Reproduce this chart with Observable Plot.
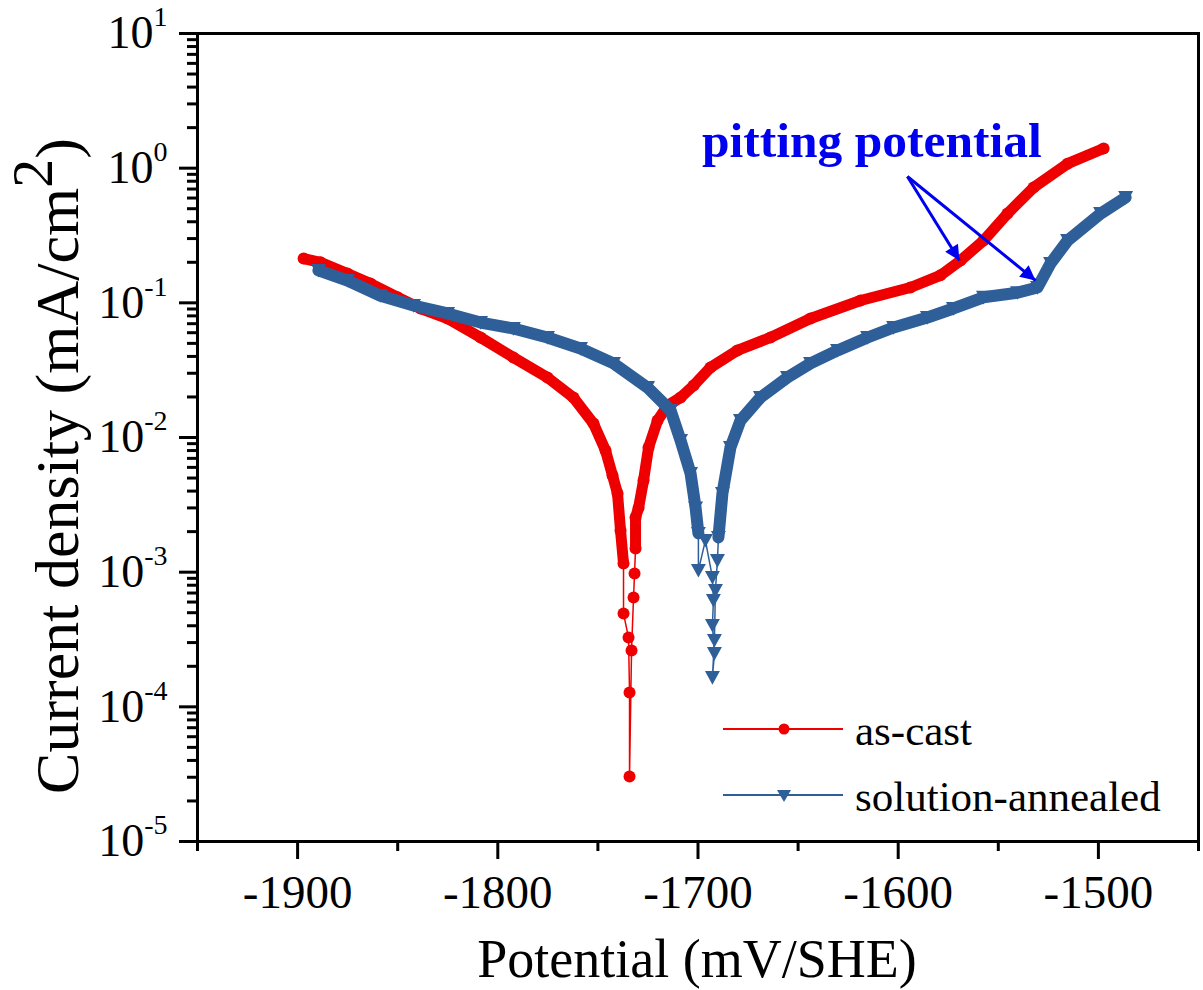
<!DOCTYPE html>
<html><head><meta charset="utf-8">
<script src="https://cdn.jsdelivr.net/npm/d3@7"></script>
<script src="https://cdn.jsdelivr.net/npm/@observablehq/plot@0.6"></script>
<style>
body{margin:0;background:#fff}
svg{font-family:"Liberation Serif","Times New Roman",serif}
</style>
</head><body><div id="chart"></div>
<script>
// ---- data (potential in mV/SHE, current density in mA/cm2) ----
const asCastPotential = [-1897.0,-1888.6,-1875.1,-1863.6,-1850.1,-1838.6,-1825.1,-1808.6,-1792.2,-1775.2,-1762.2,-1752.2,-1746.2,-1742.7,-1740.2,-1738.7,-1737.2,-1737.2,-1734.7,-1734.2,-1734.2,-1733.2,-1732.2,-1731.7,-1731.2,-1731.2,-1729.7,-1727.2,-1724.7,-1720.2,-1715.2,-1708.7,-1702.2,-1693.8,-1680.3,-1663.8,-1643.8,-1618.8,-1593.9,-1578.9,-1568.9,-1557.4,-1545.4,-1532.4,-1515.4,-1497.4];
const asCastCurrent = [0.213,0.200,0.165,0.139,0.110,0.0908,0.0765,0.0553,0.0393,0.0279,0.0198,0.0127,0.00801,0.00522,0.00384,0.00204,0.00116,4.93e-4,3.27e-4,1.28e-4,3.04e-5,2.62e-4,6.49e-4,9.77e-4,0.0015,0.00255,0.0030,0.0048,0.00843,0.01337,0.0173,0.0198,0.0243,0.0331,0.0443,0.0553,0.0765,0.104,0.130,0.160,0.206,0.290,0.460,0.718,1.08,1.40];
const annealedPotential = [-1889.6,-1875.1,-1858.6,-1842.1,-1825.1,-1808.6,-1792.2,-1775.2,-1758.7,-1742.2,-1725.2,-1713.7,-1708.7,-1703.7,-1701.2,-1699.8,-1699.8,-1696.3,-1692.8,-1692.3,-1692.8,-1691.8,-1692.8,-1691.8,-1691.3,-1690.3,-1689.8,-1687.8,-1683.8,-1678.8,-1668.8,-1655.3,-1643.8,-1630.3,-1615.3,-1602.3,-1585.4,-1572.4,-1557.4,-1540.4,-1530.4,-1523.9,-1515.4,-1498.9,-1486.4];
const annealedCurrent = [0.174,0.1466,0.113,0.0955,0.0834,0.0714,0.0645,0.0553,0.0458,0.0355,0.0235,0.0159,0.0095,0.0054,0.0030,0.00194,0.00103,0.00172,9.14e-4,6.17e-4,4.02e-4,2.49e-4,1.65e-4,3.11e-4,7.31e-4,0.00122,0.00181,0.00384,0.00843,0.01337,0.0198,0.0279,0.0355,0.0443,0.0553,0.0656,0.0778,0.0908,0.110,0.119,0.130,0.196,0.290,0.460,0.605];

const seriesNames = ["as-cast", "solution-annealed"];
const xMajorTicks = [-1900, -1800, -1700, -1600, -1500];
const xMinorTicks = [-1950, -1850, -1750, -1650, -1550, -1450];
const yDecadeExponents = [-5, -4, -3, -2, -1, 0, 1];
const xTitle = "Potential (mV/SHE)";
const yTitle = "Current density (mA/cm";
const annotationText = ["pitting potential"];
const annotationTextX = [-1698];
const annotationTextY = [1.6];
const arrowStartX = [-1595.4, -1595.4];
const arrowStartY = [0.867, 0.867];
const arrowEndX = [-1569.4, -1531.4];
const arrowEndY = [0.206, 0.1466];

// ---- build tables ----
const asCast = asCastPotential.map((p, k) => ({p, i: asCastCurrent[k]}));
const annealed = annealedPotential.map((p, k) => ({p, i: annealedCurrent[k]}));
const arrows = arrowStartX.map((x, k) => ({x1: x, y1: arrowStartY[k], x2: arrowEndX[k], y2: arrowEndY[k]}));
const labels = annotationText.map((t, k) => ({t, x: annotationTextX[k], y: annotationTextY[k]}));
const yMajor = yDecadeExponents.map(e => Math.pow(10, e));
const yMinor = yDecadeExponents.slice(0, -1).flatMap(e => d3.range(2, 10).map(m => m * Math.pow(10, e)));

const RED = "#ee0000", BLUE = "#2f5f98", ANN = "#0000f0";
const redBand = 0.0011, blueBand = 0.00175;
const triDown = {draw(ctx, size) {
  const r = Math.sqrt(size / Math.PI);
  const w = r * 1.15, h = r * 1.0;
  ctx.moveTo(-w, -h); ctx.lineTo(w, -h); ctx.lineTo(0, h * 1.1); ctx.closePath();
}};
const blank = () => "";

const plot = Plot.plot({
  width: 1203, height: 990,
  marginLeft: 197, marginRight: 5, marginTop: 33, marginBottom: 149,
  style: {fontFamily: '"Liberation Serif","Times New Roman",serif', background: "white", color: "black"},
  x: {domain: [-1950, -1450]},
  y: {type: "log", domain: [1e-5, 10]},
  marks: [
    // as-cast
    Plot.line(asCast, {x: "p", y: d => d.i > redBand ? d.i : NaN, stroke: RED, strokeWidth: 11, strokeLinecap: "round", strokeLinejoin: "round"}),
    Plot.line(asCast, {x: "p", y: "i", stroke: RED, strokeWidth: 1.5}),
    Plot.dot(asCast, {x: "p", y: "i", r: 6, fill: RED}),
    // solution-annealed
    Plot.line(annealed, {x: "p", y: d => d.i > blueBand ? d.i : NaN, stroke: BLUE, strokeWidth: 12, strokeLinecap: "round", strokeLinejoin: "round"}),
    Plot.line(annealed, {x: "p", y: "i", stroke: BLUE, strokeWidth: 1.5}),
    Plot.dot(annealed, {x: "p", y: "i", r: 6.5, fill: BLUE, symbol: triDown}),
    // annotation
    Plot.link(arrows, {x1: "x1", y1: "y1", x2: "x2", y2: "y2", stroke: ANN, strokeWidth: 3}),
    Plot.text(labels, {x: "x", y: "y", text: "t", fill: ANN, fontWeight: "bold", fontSize: 49.5, textAnchor: "start"}),
    // axes
    Plot.axisX({ticks: xMinorTicks, tickSize: 10, tickFormat: blank, strokeWidth: 3, label: null}),
    Plot.axisX({ticks: xMajorTicks, tickSize: 18, tickPadding: 15, tickFormat: d => `${d}`, fontSize: 47, strokeWidth: 3, label: null}),
    Plot.axisY({ticks: yMinor, tickSize: 10, tickFormat: blank, strokeWidth: 3, label: null}),
    Plot.axisY({ticks: yMajor, tickSize: 18, tickPadding: 12, tickFormat: d => `${Math.round(Math.log10(d))}`, fontSize: 46, strokeWidth: 3, label: null}),
    Plot.frame({stroke: "black", strokeWidth: 3})
  ]
});

document.getElementById("chart").appendChild(plot);
const svg = d3.select(plot);

// superscript tick labels 10^n
svg.selectAll('[aria-label="y-axis tick label"] text').each(function() {
  const e = this.textContent;
  if (!e) return;
  const t = d3.select(this);
  t.text(null);
  t.append("tspan").text("10");
  t.append("tspan").attr("font-size", 28).attr("dy", -22).text(e);
});

// arrow heads
const defs = svg.append("defs");
defs.append("marker").attr("id", "ahead").attr("viewBox", "0 0 10 10")
  .attr("refX", 10).attr("refY", 5).attr("markerUnits", "userSpaceOnUse")
  .attr("markerWidth", 24).attr("markerHeight", 15).attr("orient", "auto")
  .append("path").attr("d", "M0,0L10,5L0,10z").attr("fill", ANN);
svg.selectAll('[aria-label="link"] path').attr("marker-end", "url(#ahead)");

// axis titles
svg.append("text").attr("x", 697).attr("y", 977).attr("text-anchor", "middle")
  .attr("font-size", 54).attr("fill", "black").text(xTitle);
const yt = svg.append("text").attr("transform", "translate(78,466) rotate(-90)")
  .attr("text-anchor", "middle").attr("font-size", 62).attr("fill", "black");
yt.append("tspan").text(yTitle);
yt.append("tspan").attr("font-size", 58).attr("dy", -26).text("2");
yt.append("tspan").attr("font-size", 62).attr("dy", 26).text(")");

// legend
const lg = svg.append("g").attr("font-size", 43).attr("fill", "black").attr("text-anchor", "start");
const items = [{name: seriesNames[0], color: RED, y: 729, sym: "dot"}, {name: seriesNames[1], color: BLUE, y: 795, sym: "tri"}];
items.forEach(it => {
  lg.append("line").attr("x1", 723).attr("x2", 843).attr("y1", it.y).attr("y2", it.y)
    .attr("stroke", it.color).attr("stroke-width", 2);
  if (it.sym === "dot") lg.append("circle").attr("cx", 784).attr("cy", it.y).attr("r", 5.5).attr("fill", it.color);
  else lg.append("path").attr("d", `M${777},${it.y - 5}L${791},${it.y - 5}L${784},${it.y + 7}Z`).attr("fill", it.color);
  lg.append("text").attr("x", 855).attr("y", it.y + 16).attr("text-anchor", "start").text(it.name);
});
</script>
</body></html>
